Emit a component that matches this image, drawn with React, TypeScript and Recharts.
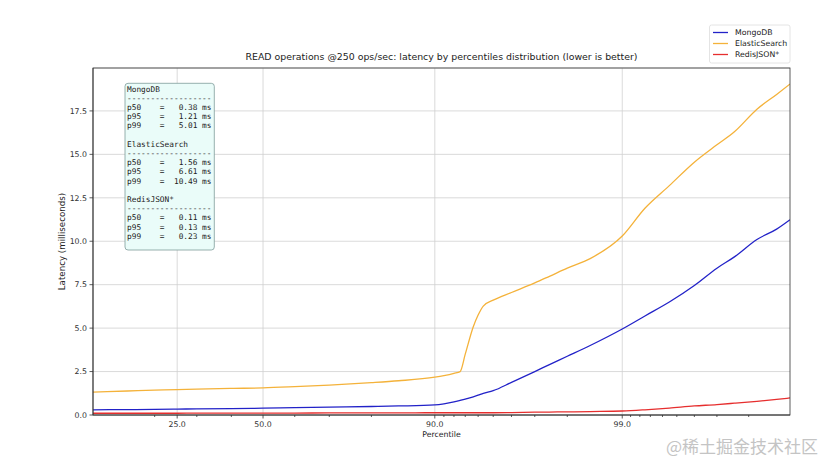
import React from "react";
import { LineChart, Line, XAxis, YAxis, CartesianGrid, ReferenceLine } from "recharts";

// percentile points the latencies were read at (x axis is a logit scale)
const percentiles = [
  10.2, 15, 20, 25, 30, 40, 50, 60, 70, 80, 85, 90, 91, 92, 92.56, 93, 93.64, 94, 94.36, 95,
  96, 97, 97.5, 98, 98.5, 99, 99.25, 99.45, 99.6, 99.7, 99.76, 99.82, 99.86, 99.882,
];
const mongoLatency = [
  0.3, 0.31, 0.32, 0.34, 0.35, 0.37, 0.39, 0.42, 0.45, 0.49, 0.52, 0.58, 0.64, 0.75, 0.84, 0.92,
  1.05, 1.14, 1.24, 1.4, 1.88, 2.5, 2.9, 3.38, 4.0, 4.95, 5.7, 6.5, 7.45, 8.45, 9.1, 10.1,
  10.7, 11.24,
];
const elasticLatency = [
  1.32, 1.38, 1.43, 1.46, 1.49, 1.53, 1.56, 1.63, 1.72, 1.86, 1.97, 2.18, 2.27, 2.4, 2.5, 3.5,
  5.08, 5.75, 6.27, 6.61, 7.05, 7.6, 7.98, 8.45, 9.0, 10.3, 11.9, 13.2, 14.55, 15.55, 16.3,
  17.6, 18.45, 19.05,
];
const redisLatency = [
  0.1, 0.1, 0.1, 0.1, 0.11, 0.11, 0.11, 0.11, 0.12, 0.12, 0.12, 0.13, 0.13, 0.13, 0.13, 0.13,
  0.13, 0.13, 0.13, 0.13, 0.14, 0.16, 0.17, 0.18, 0.2, 0.23, 0.3, 0.4, 0.52, 0.6, 0.68, 0.79,
  0.9, 0.98,
];

const seriesNames = ["MongoDB", "ElasticSearch", "RedisJSON*"];
const seriesColors = ["#2222c8", "#f4b23a", "#e62e2e"];

const majorTicks = [25, 50, 90, 99];
const minorTicks = [
  20, 30, 40, 60, 70, 80, 91, 92, 93, 94, 95, 96, 97, 98, 99.1, 99.2, 99.3, 99.4, 99.5, 99.6,
  99.7, 99.8,
];
const yTicks = [0, 2.5, 5, 7.5, 10, 12.5, 15, 17.5];

// summary box text
const statLabels = ["p50", "p95", "p99"];
const mongoStats = [0.38, 1.21, 5.01];
const elasticStats = [1.56, 6.61, 10.49];
const redisStats = [0.11, 0.13, 0.23];

const logit = (p: number) => Math.log10(p / (100 - p));

const data = percentiles.map((p, i) => ({
  x: logit(p),
  mongo: mongoLatency[i],
  elastic: elasticLatency[i],
  redis: redisLatency[i],
}));

const xMin = logit(percentiles[0]);
const xMax = logit(percentiles[percentiles.length - 1]);
const allTicks = [...majorTicks, ...minorTicks].sort((a, b) => a - b).map(logit);

const FONT = "'DejaVu Sans', sans-serif";
const MONO = "'DejaVu Sans Mono', monospace";

const XTick = (props: any) => {
  const { x, y, payload } = props;
  const major = majorTicks.find((m) => Math.abs(logit(m) - payload.value) < 1e-6);
  if (major === undefined) {
    return <line x1={x} x2={x} y1={y} y2={y + 2} stroke="#333" strokeWidth={0.8} />;
  }
  return (
    <g>
      <line x1={x} x2={x} y1={y} y2={y + 3.5} stroke="#333" strokeWidth={0.8} />
      <text x={x} y={y + 6} dy="0.71em" textAnchor="middle" fontSize={7.8} fill="#333" fontFamily={FONT}>
        {major.toFixed(1)}
      </text>
    </g>
  );
};

const pad = (v: number) => v.toFixed(2).padStart(7, " ");

const statLines: string[] = [];
[mongoStats, elasticStats, redisStats].forEach((s, k) => {
  statLines.push(seriesNames[k]);
  statLines.push("-".repeat(18));
  s.forEach((v, j) => statLines.push(`${statLabels[j]}    =${pad(v)} ms`));
  if (k < 2) statLines.push("");
});

export default function App() {
  return (
    <div style={{ position: "absolute", left: 0, top: 0, width: 825, height: 462, background: "#fff" }}>
      <LineChart
        width={825}
        height={462}
        data={data}
        margin={{ top: 68, right: 35, left: 53, bottom: 17 }}
      >
        <CartesianGrid vertical={false} stroke="#d0d0d0" strokeWidth={0.8} />
        {majorTicks.map((m) => (
          <ReferenceLine key={m} x={logit(m)} stroke="#d0d0d0" strokeWidth={0.8} />
        ))}
        <XAxis
          type="number"
          dataKey="x"
          domain={[xMin, xMax]}
          allowDataOverflow
          ticks={allTicks}
          interval={0}
          tick={<XTick />}
          tickLine={false}
          tickSize={0}
          tickMargin={0}
          height={30}
          axisLine={{ stroke: "#333", strokeWidth: 0.8 }}
        />
        <YAxis
          type="number"
          domain={[0, 19.97]}
          allowDataOverflow
          ticks={yTicks}
          interval={0}
          width={40}
          tickSize={3.5}
          tickMargin={2.5}
          tickFormatter={(v: number) => v.toFixed(1)}
          tick={{ fontSize: 7.8, fill: "#333", fontFamily: FONT }}
          tickLine={{ stroke: "#333", strokeWidth: 0.8 }}
          axisLine={{ stroke: "#333", strokeWidth: 0.8 }}
        />
        <Line type="monotone" dataKey="mongo" name={seriesNames[0]} stroke={seriesColors[0]} strokeWidth={1.3} dot={false} isAnimationActive={false} />
        <Line type="monotone" dataKey="elastic" name={seriesNames[1]} stroke={seriesColors[1]} strokeWidth={1.3} dot={false} isAnimationActive={false} />
        <Line type="monotone" dataKey="redis" name={seriesNames[2]} stroke={seriesColors[2]} strokeWidth={1.3} dot={false} isAnimationActive={false} />
      </LineChart>

      <svg
        width={825}
        height={462}
        style={{ position: "absolute", left: 0, top: 0, pointerEvents: "none" }}
      >
        {/* plot frame */}
        <rect x={93} y={68} width={697} height={347} fill="none" stroke="#333" strokeWidth={0.8} />

        <text x={441.5} y={60} textAnchor="middle" fontSize={9.4} fill="#222" fontFamily={FONT}>
          READ operations @250 ops/sec: latency by percentiles distribution (lower is better)
        </text>
        <text x={441.5} y={434} dy="0.35em" textAnchor="middle" fontSize={7.8} fill="#222" fontFamily={FONT}>
          Percentile
        </text>
        <text
          x={62}
          y={241.5}
          dy="0.35em"
          textAnchor="middle"
          fontSize={8.7}
          fill="#222"
          fontFamily={FONT}
          transform="rotate(-90 62 241.5)"
        >
          Latency (milliseconds)
        </text>

        {/* legend */}
        <rect x={709.5} y={25} width={80.5} height={38} rx={2} fill="#fff" stroke="#ddd" strokeWidth={0.8} />
        {seriesNames.map((n, i) => (
          <g key={n}>
            <line x1={713} x2={728} y1={32.5 + i * 11} y2={32.5 + i * 11} stroke={seriesColors[i]} strokeWidth={1.3} />
            <text x={735} y={32.5 + i * 11} dy="0.35em" fontSize={7.8} fill="#222" fontFamily={FONT}>
              {n}
            </text>
          </g>
        ))}

        {/* summary box */}
        <rect x={125} y={83.3} width={89.3} height={166.7} rx={3} fill="#eafcf9" stroke="#7f9c9a" strokeWidth={0.8} />
        {statLines.map((s, i) => (
          <text
            key={i}
            x={127}
            y={88.8 + i * 9.2}
            dy="0.35em"
            fontSize={7.8}
            fill="#222"
            fontFamily={MONO}
            style={{ whiteSpace: "pre" }}
          >
            {s}
          </text>
        ))}

        <text x={818} y={447} dy="0.35em" textAnchor="end" fontSize={17} fill="#c4c4c4" fontFamily="'Noto Sans CJK SC', sans-serif">
          @稀土掘金技术社区
        </text>
      </svg>
    </div>
  );
}
